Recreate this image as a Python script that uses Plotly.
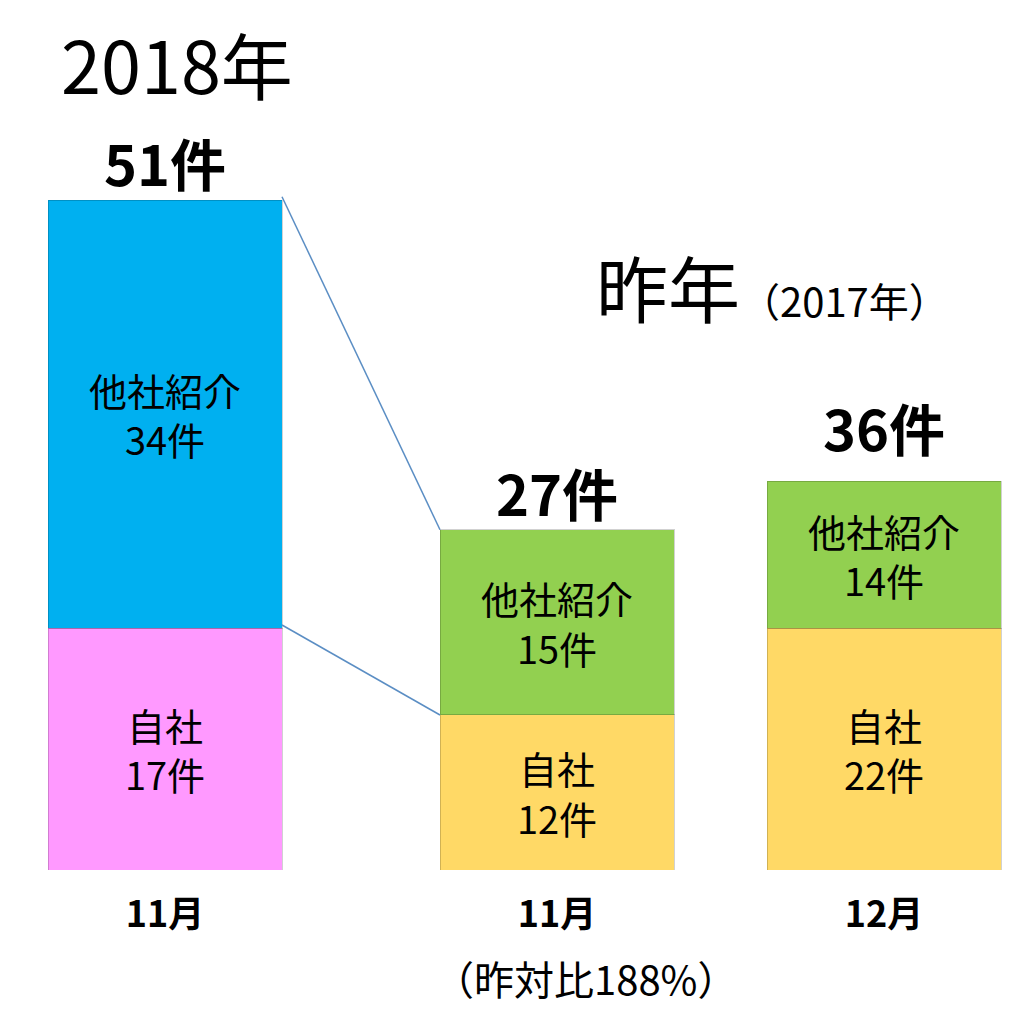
import plotly.graph_objects as go

# counts shown on the chart
months = ["11月", "11月", "12月"]
own_counts = [17, 12, 22]        # 自社
referral_counts = [34, 15, 14]   # 他社紹介
totals = [a + b for a, b in zip(own_counts, referral_counts)]

# the segments are not drawn to scale in the original, so the drawn heights
# are read off the picture separately (same unit as the 51 bar)
own_heights = [18.4, 11.8, 18.4]
referral_heights = [32.6, 14.1, 11.2]

own_colors = ["#ff99ff", "#ffd966", "#ffd966"]
referral_colors = ["#00b0f0", "#92d050", "#92d050"]

# layout
FONT = "Noto Sans CJK JP"
xpos = [165, 557, 884]
bar_w = 234
total_yshift = [0, 0, 16]

fig = go.Figure()
fig.add_trace(go.Bar(
    x=xpos, y=own_heights, width=bar_w,
    marker=dict(color=own_colors, line=dict(color="rgba(0,0,0,0.18)", width=1)),
    text=["自社<br>%d件" % v for v in own_counts],
    textposition="inside", insidetextanchor="middle",
    textfont=dict(family=FONT, size=38, color="black"),
    hoverinfo="skip",
))
fig.add_trace(go.Bar(
    x=xpos, y=referral_heights, width=bar_w,
    marker=dict(color=referral_colors, line=dict(color="rgba(0,0,0,0.18)", width=1)),
    text=["他社紹介<br>%d件" % v for v in referral_counts],
    textposition="inside", insidetextanchor="middle",
    textfont=dict(family=FONT, size=38, color="black"),
    hoverinfo="skip",
))

# totals above each bar
for i in range(len(xpos)):
    fig.add_annotation(x=xpos[i], y=own_heights[i] + referral_heights[i],
                       text="%d件" % totals[i], showarrow=False,
                       yanchor="bottom", yshift=total_yshift[i] - 4,
                       font=dict(family=FONT, size=56, color="black", weight="bold"))

# connector lines between the 2018 bar and the 2017 November bar
right1 = xpos[0] + bar_w / 2
left2 = xpos[1] - bar_w / 2
fig.add_shape(type="line", x0=right1, x1=left2,
              y0=own_heights[0] + referral_heights[0] + 0.25,
              y1=own_heights[1] + referral_heights[1],
              line=dict(color="#5b8ec4", width=1.5))
fig.add_shape(type="line", x0=right1, x1=left2,
              y0=own_heights[0] + 0.25, y1=own_heights[1],
              line=dict(color="#5b8ec4", width=1.5))

fig.add_annotation(xref="paper", yref="paper", x=0.05, y=1.0,
                   xanchor="left", yanchor="top", yshift=0,
                   text="2018年", showarrow=False,
                   font=dict(family=FONT, size=72, color="black"))
fig.add_annotation(xref="paper", yref="paper", x=0.572, y=0.678,
                   xanchor="left", yanchor="middle",
                   text="昨年<span style='font-size:40px'>（2017年）</span>",
                   showarrow=False,
                   font=dict(family=FONT, size=72, color="black"))
fig.add_annotation(x=585, yref="paper", y=0, yanchor="middle", yshift=-108,
                   text="（昨対比188%）", showarrow=False,
                   font=dict(family=FONT, size=40, color="black"))

fig.update_xaxes(range=[8, 1032], tickvals=xpos, ticktext=months,
                 tickfont=dict(family=FONT, size=36, color="black", weight="bold"),
                 ticklabelstandoff=20, showgrid=False, zeroline=False,
                 showline=False, ticks="")
fig.update_yaxes(range=[0, 862 / 13.137], visible=False)
fig.update_layout(
    barmode="stack", showlegend=False,
    width=1024, height=1013,
    margin=dict(l=0, r=0, t=0, b=151),
    paper_bgcolor="white", plot_bgcolor="white",
    uniformtext=dict(mode="show", minsize=38),
)
fig.write_html("out.html")
